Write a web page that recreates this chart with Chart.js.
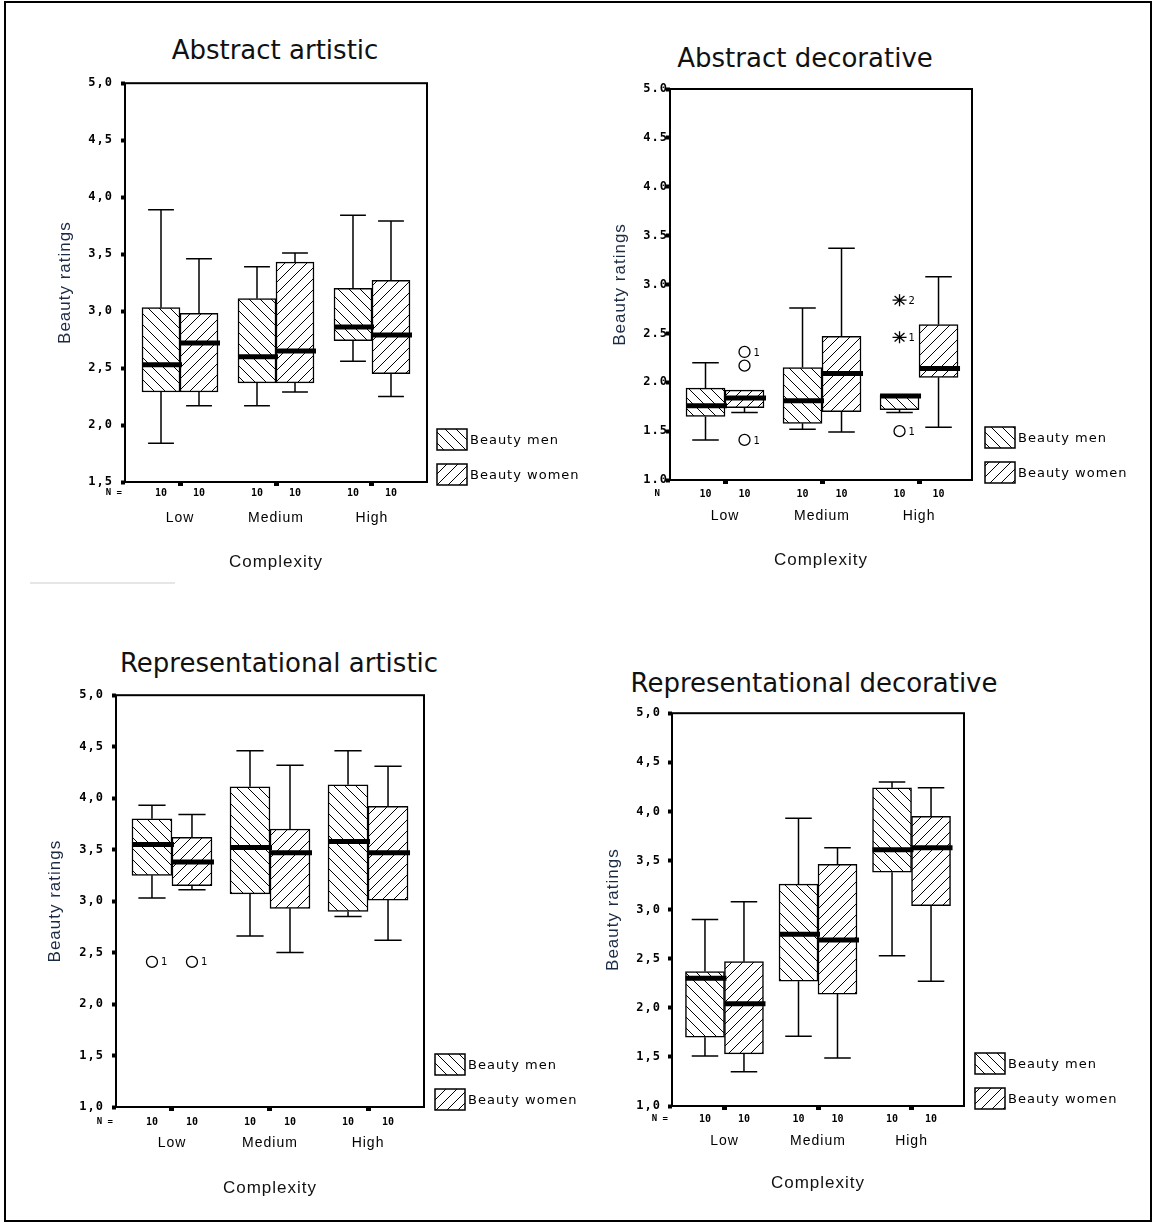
<!DOCTYPE html>
<html lang="en">
<head>
  <meta charset="UTF-8" />
  <title>Beauty ratings by complexity</title>
  <script src="https://cdn.jsdelivr.net/npm/chart.js"></script>
  <style>
    body {
      margin: 0;
      width: 1154px;
      height: 1223px;
      position: relative;
      overflow: hidden;
      background: #fff;
      font-family: 'DejaVu Sans', sans-serif;
    }
    .frame {
      position: absolute;
      left: 4px; top: 1px;
      width: 1148px; height: 1221px;
      box-sizing: border-box;
      border: 2px solid #000;
    }
    .rule {
      position: absolute;
      left: 30px; top: 582px;
      width: 145px; height: 2px;
      background: #e6e6e6;
    }
    .title {
      position: absolute;
      font-size: 26px;
      line-height: 1;
      color: #111;
      white-space: nowrap;
      transform: translate(-50%, -50%);
    }
    canvas { position: absolute; }
  </style>
</head>
<body>

  <div class="frame"></div>
  <div class="rule"></div>

  <script>
    const categories = ['Low', 'Medium', 'High'];
    const seriesNames = ['Beauty men', 'Beauty women'];
    const groupSizes = [10, 10, 10];

    // [min, Q1, median, Q3, max] per complexity level
    const abstractArtisticMen = [[1.84, 2.29, 2.53, 3.03, 3.89], [2.17, 2.37, 2.60, 3.11, 3.39], [2.56, 2.74, 2.86, 3.20, 3.84]];
    const abstractArtisticWomen = [[2.17, 2.29, 2.72, 2.98, 3.46], [2.29, 2.37, 2.65, 3.43, 3.51], [2.25, 2.45, 2.79, 3.27, 3.79]];
    const abstractDecorativeMen = [[1.41, 1.65, 1.76, 1.94, 2.20], [1.52, 1.58, 1.81, 2.15, 2.76], [1.69, 1.72, 1.86, 1.87, 1.87]];
    const abstractDecorativeWomen = [[1.69, 1.74, 1.84, 1.92, 1.92], [1.49, 1.70, 2.09, 2.47, 3.37], [1.54, 2.05, 2.14, 2.59, 3.08]];
    const reprArtisticMen = [[3.03, 3.25, 3.55, 3.80, 3.93], [2.66, 3.07, 3.52, 4.11, 4.46], [2.85, 2.90, 3.58, 4.13, 4.46]];
    const reprArtisticWomen = [[3.11, 3.15, 3.38, 3.62, 3.84], [2.50, 2.93, 3.47, 3.70, 4.32], [2.62, 3.01, 3.47, 3.92, 4.31]];
    const reprDecorativeMen = [[1.51, 1.70, 2.30, 2.37, 2.90], [1.71, 2.27, 2.75, 3.26, 3.93], [2.53, 3.38, 3.61, 4.24, 4.30]];
    const reprDecorativeWomen = [[1.35, 1.53, 2.04, 2.47, 3.08], [1.49, 2.14, 2.69, 3.46, 3.63], [2.27, 3.04, 3.63, 3.95, 4.24]];

    // outliers: [complexity index, rating, case label, 'o' outlier / '*' extreme]
    const abstractDecorativeMenOutliers = [[2, 2.84, '2', '*'], [2, 2.46, '1', '*'], [2, 1.50, '1', 'o']];
    const abstractDecorativeWomenOutliers = [[0, 2.31, '1', 'o'], [0, 2.17, '', 'o'], [0, 1.41, '1', 'o']];
    const reprArtisticMenOutliers = [[0, 2.41, '1', 'o']];
    const reprArtisticWomenOutliers = [[0, 2.41, '1', 'o']];

    const panels = [
      { title: 'Abstract artistic', titleX: 275, titleY: 50, area: [125, 82, 427, 482], xRange: [0.427, 3.573], yRange: [1.5, 5],
        decimal: ',', yTitleX: 65, yLabelRight: 113, countY: 493, catY: 518, xTitleY: 562, nX: 122, nText: 'N =', legendX: 437, barWidth: 38,
        men: abstractArtisticMen, women: abstractArtisticWomen, menOut: [], womenOut: [] },
      { title: 'Abstract decorative', titleX: 805, titleY: 58, area: [670, 89, 972, 480], xRange: [0.433, 3.546], yRange: [1, 5],
        decimal: '.', yTitleX: 620, yLabelRight: 668, countY: 494, catY: 516, xTitleY: 560, nX: 660, nText: 'N', legendX: 985, barWidth: 39,
        men: abstractDecorativeMen, women: abstractDecorativeWomen, menOut: abstractDecorativeMenOutliers, womenOut: abstractDecorativeWomenOutliers },
      { title: 'Representational artistic', titleX: 279, titleY: 663, area: [116, 694, 424, 1107], xRange: [0.429, 3.571], yRange: [1, 5],
        decimal: ',', yTitleX: 55, yLabelRight: 104, countY: 1122, catY: 1143, xTitleY: 1188, nX: 113, nText: 'N =', legendX: 435, barWidth: 40,
        men: reprArtisticMen, women: reprArtisticWomen, menOut: reprArtisticMenOutliers, womenOut: reprArtisticWomenOutliers },
      { title: 'Representational decorative', titleX: 814, titleY: 683, area: [672, 713, 964, 1106], xRange: [0.439, 3.561], yRange: [1, 5],
        decimal: ',', yTitleX: 613, yLabelRight: 661, countY: 1119, catY: 1141, xTitleY: 1183, nX: 668, nText: 'N =', legendX: 975, barWidth: 39,
        men: reprDecorativeMen, women: reprDecorativeWomen, menOut: [], womenOut: [] }
    ];

    function makeHatch(back) {
      const s = 11;
      const c = document.createElement('canvas');
      c.width = s; c.height = s;
      const g = c.getContext('2d');
      g.fillStyle = '#fff';
      g.fillRect(0, 0, s, s);
      g.strokeStyle = '#000';
      g.lineWidth = 1;
      g.beginPath();
      if (back) {
        g.moveTo(0, 0); g.lineTo(s, s);
        g.moveTo(-1, s - 1); g.lineTo(1, s + 1);
        g.moveTo(s - 1, -1); g.lineTo(s + 1, 1);
      } else {
        g.moveTo(0, s); g.lineTo(s, 0);
        g.moveTo(-1, 1); g.lineTo(1, -1);
        g.moveTo(s - 1, s + 1); g.lineTo(s + 1, s - 1);
      }
      g.stroke();
      return g.createPattern(c, 'repeat');
    }

    const boxPlotExtras = {
      id: 'boxPlotExtras',
      beforeDraw(chart) { chart.ctx.letterSpacing = '1px'; },
      beforeDatasetsDraw(chart) { chart.ctx.letterSpacing = '0px'; },
      afterDatasetsDraw(chart) {
        const { ctx, chartArea: a, scales: { y } } = chart;
        ctx.save();
        ctx.strokeStyle = '#000';
        ctx.fillStyle = '#000';
        chart.data.datasets.forEach((ds, di) => {
          const meta = chart.getDatasetMeta(di);
          meta.data.forEach((bar, i) => {
            const [lo, q1, med, q3, hi] = ds.summary[i];
            const cap = bar.width * 0.34;
            ctx.lineWidth = 1.5;
            ctx.beginPath();
            if (hi > q3) {
              ctx.moveTo(bar.x, y.getPixelForValue(q3)); ctx.lineTo(bar.x, y.getPixelForValue(hi));
              ctx.moveTo(bar.x - cap, y.getPixelForValue(hi)); ctx.lineTo(bar.x + cap, y.getPixelForValue(hi));
            }
            if (lo < q1) {
              ctx.moveTo(bar.x, y.getPixelForValue(q1)); ctx.lineTo(bar.x, y.getPixelForValue(lo));
              ctx.moveTo(bar.x - cap, y.getPixelForValue(lo)); ctx.lineTo(bar.x + cap, y.getPixelForValue(lo));
            }
            ctx.stroke();
            const ym = y.getPixelForValue(med);
            ctx.lineWidth = 5;
            ctx.beginPath();
            ctx.moveTo(bar.x - bar.width / 2, ym);
            ctx.lineTo(bar.x + bar.width / 2 + 2, ym);
            ctx.stroke();
          });
          ds.outliers.forEach(([ci, v, label, kind]) => {
            const bar = meta.data[ci];
            const py = y.getPixelForValue(v);
            ctx.lineWidth = 1.3;
            ctx.beginPath();
            if (kind === 'o') {
              ctx.arc(bar.x, py, 5.5, 0, Math.PI * 2);
            } else {
              for (let k = 0; k < 4; k++) {
                const ang = k * Math.PI / 4;
                ctx.moveTo(bar.x - 7 * Math.cos(ang), py - 6 * Math.sin(ang));
                ctx.lineTo(bar.x + 7 * Math.cos(ang), py + 6 * Math.sin(ang));
              }
            }
            ctx.stroke();
            if (label) {
              ctx.font = '10px "DejaVu Sans"';
              ctx.textAlign = 'left';
              ctx.textBaseline = 'middle';
              ctx.fillText(label, bar.x + 9, py + 1);
            }
          });
        });
        ctx.lineWidth = 2;
        ctx.strokeRect(a.left, a.top, a.right - a.left, a.bottom - a.top);
        ctx.restore();
      },
      afterDraw(chart, args, opts) {
        const { ctx, chartArea: a } = chart;
        ctx.save();
        ctx.fillStyle = '#000';
        ctx.strokeStyle = '#000';
        ctx.textBaseline = 'middle';
        ctx.font = 'bold 10px "DejaVu Sans Mono"';
        ctx.textAlign = 'center';
        chart.data.datasets.forEach((ds, di) => {
          chart.getDatasetMeta(di).data.forEach((bar, i) => {
            ctx.fillText(String(groupSizes[i]), bar.x, opts.countY);
          });
        });
        ctx.font = 'bold 9px "DejaVu Sans Mono"';
        ctx.textAlign = 'right';
        ctx.fillText(opts.nText, opts.nX, opts.countY);

        ctx.letterSpacing = '1px';
        ctx.font = '13px "DejaVu Sans"';
        ctx.textAlign = 'left';
        chart.data.datasets.forEach((ds, di) => {
          const top = a.bottom - 53 + di * 35;
          ctx.fillStyle = ds.backgroundColor;
          ctx.fillRect(opts.legendX, top, 30, 21);
          ctx.lineWidth = 1.5;
          ctx.strokeRect(opts.legendX, top, 30, 21);
          ctx.fillStyle = '#000';
          ctx.fillText(ds.label, opts.legendX + 33, top + 12);
        });
        ctx.restore();
      }
    };

    panels.forEach((p, n) => {
      const [L, T, R, B] = p.area;
      const left = p.yTitleX - 25;
      const top = T - 14;
      const right = p.legendX + 150;
      const bottom = p.xTitleY + 22;

      const head = document.createElement('div');
      head.className = 'title';
      head.textContent = p.title;
      head.style.left = p.titleX + 'px';
      head.style.top = p.titleY + 'px';
      document.body.appendChild(head);

      const canvas = document.createElement('canvas');
      canvas.id = 'panel' + (n + 1);
      canvas.width = right - left;
      canvas.height = bottom - top;
      canvas.style.left = left + 'px';
      canvas.style.top = top + 'px';
      document.body.appendChild(canvas);

      const makeSet = (label, summary, outliers, back) => ({
        label,
        data: summary.map((s, i) => ({ x: i + 1, y: [s[1], s[3]] })),
        summary,
        outliers,
        backgroundColor: makeHatch(back),
        borderColor: '#000',
        borderWidth: 1.5,
        borderSkipped: false,
        barThickness: p.barWidth
      });

      const tickGrid = { display: true, offset: false, drawOnChartArea: false, drawTicks: true, tickLength: 4, tickColor: '#000' };

      new Chart(canvas.getContext('2d'), {
        type: 'bar',
        data: {
          datasets: [
            makeSet(seriesNames[0], p.men, p.menOut, true),
            makeSet(seriesNames[1], p.women, p.womenOut, false)
          ]
        },
        options: {
          responsive: false,
          devicePixelRatio: 1,
          animation: false,
          layout: { padding: { left: 0, top: T - top, right: right - R, bottom: 0 } },
          plugins: {
            legend: { display: false },
            title: { display: false },
            tooltip: { enabled: false },
            boxPlotExtras: { countY: p.countY - top, nX: p.nX - left, nText: p.nText, legendX: p.legendX - left }
          },
          scales: {
            x: {
              type: 'linear',
              min: p.xRange[0],
              max: p.xRange[1],
              offset: false,
              afterBuildTicks: (s) => { s.ticks = categories.map((c, i) => ({ value: i + 1 })); },
              afterFit: (s) => { s.height = bottom - B; },
              ticks: {
                autoSkip: false,
                maxRotation: 0,
                color: '#000',
                font: { size: 14 },
                padding: p.catY - B - 4 - 8.4,
                callback: (v, i) => categories[i]
              },
              grid: Object.assign({}, tickGrid, { tickWidth: 5 }),
              border: { display: false },
              title: { display: true, text: 'Complexity', color: '#111', font: { size: 17 }, padding: { top: 0, bottom: bottom - p.xTitleY - 10.2 } }
            },
            y: {
              min: p.yRange[0],
              max: p.yRange[1],
              afterFit: (s) => { s.width = L - left; },
              ticks: {
                stepSize: 0.5,
                color: '#000',
                font: { family: '"DejaVu Sans Mono"', size: 12, weight: 'bold' },
                padding: L - 4 - p.yLabelRight,
                callback: (v) => v.toFixed(1).replace('.', p.decimal)
              },
              grid: Object.assign({}, tickGrid, { tickWidth: 4 }),
              border: { display: false },
              title: { display: true, text: 'Beauty ratings', color: '#1b2a45', font: { size: 17 }, padding: { top: 25 - 10.2, bottom: 0 } }
            }
          }
        },
        plugins: [boxPlotExtras]
      });
    });
  </script>

</body>
</html>
